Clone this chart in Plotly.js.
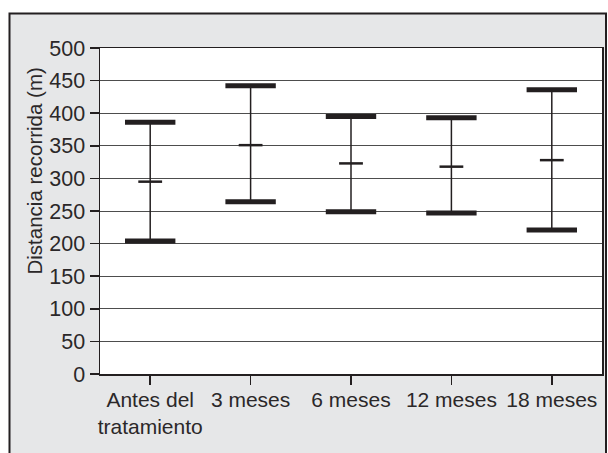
<!DOCTYPE html>
<html>
<head>
<meta charset="utf-8">
<script src="https://cdn.plot.ly/plotly-3.0.1.min.js"></script>
<style>
html,body{margin:0;padding:0;background:#ffffff;}
#chart{width:608px;height:453px;}
</style>
</head>
<body>
<div id="chart"></div>
<script>
var categories = ["Antes del<br>tratamiento", "3 meses", "6 meses", "12 meses", "18 meses"];
var maxVals  = [386, 442, 395, 393, 436];
var meanVals = [295, 351, 323, 318, 328];
var minVals  = [204, 264, 249, 247, 221];
var yTickVals = [0, 50, 100, 150, 200, 250, 300, 350, 400, 450, 500];
var yTitle = "Distancia recorrida (m)";

var ink = "#231f20";
var textInk = "#2b2829";
var fontFam = "'Liberation Sans', Arial, sans-serif";

var lx = [], ly = [];
for (var i = 0; i < categories.length; i++) {
  lx.push(categories[i], categories[i], null);
  ly.push(minVals[i], maxVals[i], null);
}
var capX = categories.concat(categories);
var capY = maxVals.concat(minVals);

var traces = [
  {x: lx, y: ly, type: "scatter", mode: "lines", line: {color: ink, width: 1.5}, hoverinfo: "skip", showlegend: false, connectgaps: false},
  {x: capX, y: capY, type: "scatter", mode: "markers", marker: {symbol: "line-ew-open", size: 36, color: ink, line: {color: ink, width: 5}}, showlegend: false},
  {x: categories, y: meanVals, type: "scatter", mode: "markers", marker: {symbol: "line-ew-open", size: 17, color: ink, line: {color: ink, width: 2.5}}, showlegend: false}
];

var layout = {
  width: 608, height: 453,
  margin: {l: 100, r: 6, t: 48, b: 79},
  paper_bgcolor: "#ffffff",
  plot_bgcolor: "#ffffff",
  font: {family: fontFam, color: textInk, size: 21},
  showlegend: false,
  xaxis: {
    type: "category",
    range: [-0.5, 4.5],
    showgrid: false,
    zeroline: false,
    showline: true, linecolor: ink, linewidth: 1.5, mirror: true,
    ticks: "outside", ticklen: 9, tickwidth: 1.5, tickcolor: ink,
    ticklabelstandoff: -3,
    tickfont: {family: fontFam, size: 21, color: textInk},
    fixedrange: true
  },
  yaxis: {
    range: [0, 500],
    tickvals: yTickVals,
    showgrid: true, gridcolor: "#4d4d4d", gridwidth: 1,
    zeroline: false,
    showline: true, linecolor: ink, linewidth: 1.5, mirror: true,
    ticks: "outside", ticklen: 9, tickwidth: 1.5, tickcolor: ink,
    tickfont: {family: fontFam, size: 21.5, color: textInk},
    fixedrange: true
  },
  shapes: [
    {type: "rect", xref: "paper", yref: "paper", layer: "below",
     x0: (9.5 - 100) / 502, x1: (606 - 100) / 502, y0: (374 - 470) / 326, y1: (374 - 13.5) / 326,
     fillcolor: "#e6e7e8", line: {color: ink, width: 2}},
    {type: "rect", xref: "paper", yref: "paper", layer: "below",
     x0: 0, x1: 1, y0: 0, y1: 1, fillcolor: "#ffffff", line: {width: 0}}
  ],
  annotations: [
    {text: yTitle, xref: "paper", yref: "paper", x: (34 - 100) / 502, y: (374 - 171.5) / 326,
     xanchor: "center", yanchor: "middle", textangle: -90, showarrow: false,
     font: {family: fontFam, size: 20.5, color: textInk}}
  ]
};

Plotly.newPlot("chart", traces, layout, {displayModeBar: false, staticPlot: true});
</script>
</body>
</html>
